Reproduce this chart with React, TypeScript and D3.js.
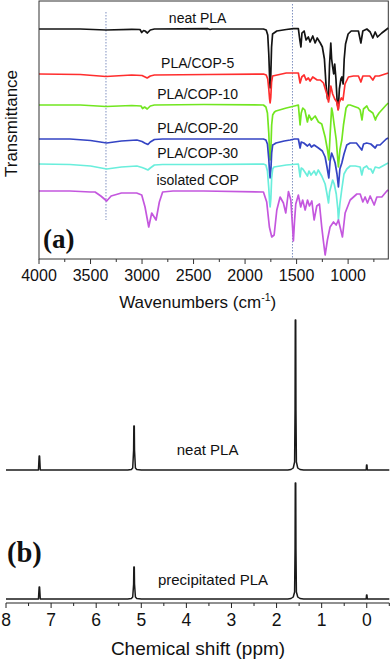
import * as d3 from "d3";

const WIDTH = 392;
const HEIGHT = 661;

// ---------- (a) FTIR ----------
const ftirLabels = ["neat PLA", "PLA/COP-5", "PLA/COP-10", "PLA/COP-20", "PLA/COP-30", "isolated COP"];
const ftirColors = ["#141414", "#ff2e2e", "#72e620", "#3444c4", "#6aeedc", "#c457de"];
// baseline of each trace (transmittance, a.u.)
const ftirOffsets = [230, 185, 154, 120, 95, 68];
const ftirTicks = [4000, 3500, 3000, 2500, 2000, 1500, 1000];
const ftirMinorTicks = [3750, 3250, 2750, 2250, 1750, 1250, 750];
const ftirMarkers = [3350, 1540];

// [wavenumber, absorption depth below baseline]
const neatPLA: [number, number][] = [
  [4000, 0], [3600, 0], [3350, 1], [3100, 0.3], [3020, 0.5], [3003, 3.5], [2985, 1.5], [2971, 2],
  [2948, 4], [2920, 1], [2880, 0], [2360, -0.3], [2340, 0.5], [2320, 0], [1822, 0], [1795, 1],
  [1780, 6], [1770, 25], [1762, 48], [1757, 59], [1751, 48], [1743, 18], [1733, 5], [1692, 2], [1600, 0.5],
  [1531, -0.3], [1483, -0.5], [1470, 10], [1458, 18], [1448, 4], [1427, 2], [1408, 11], [1386, 8],
  [1369, 13], [1343, 7], [1320, 14], [1300, 9], [1270, 14], [1250, 18], [1230, 30], [1215, 55],
  [1200, 70], [1190, 68], [1180, 35], [1168, 14], [1160, 30], [1150, 38], [1140, 45], [1130, 35],
  [1118, 50], [1105, 75], [1095, 80], [1085, 60], [1070, 50], [1060, 48], [1048, 55], [1038, 30],
  [1025, 15], [1000, 5], [970, 2], [900, 2], [876, 14], [857, 2], [818, 0], [786, 3], [760, 9],
  [737, 3], [715, 8], [673, 4], [610, -1],
];
const cop5: [number, number][] = [
  [4000, 0], [3600, 0.5], [3350, 2.5], [3100, 1], [3000, 1.5], [2950, 4], [2920, 2], [2880, 1],
  [2360, 0.5], [1822, 0], [1795, 1], [1780, 5], [1770, 15], [1762, 25], [1757, 29], [1751, 24], [1743, 8],
  [1733, 2], [1600, -1], [1550, -1], [1483, -1], [1466, 9], [1450, 3], [1427, 1], [1408, 6],
  [1386, 4], [1369, 7], [1343, 3], [1300, 6], [1270, 6], [1239, 9], [1207, 20], [1190, 28],
  [1180, 22], [1168, 12], [1150, 20], [1130, 25], [1110, 28], [1097, 36], [1085, 28], [1065, 24],
  [1050, 26], [1030, 10], [997, 3], [948, 2], [900, 2], [876, 8], [857, 2], [790, 2], [760, 6],
  [737, 2], [700, 2], [610, -1],
];
const cop10: [number, number][] = [
  [4000, 0], [3600, 0], [3350, 1.5], [3100, 0.5], [3010, 1], [2995, 3.5], [2975, 2], [2950, 4],
  [2920, 1], [2880, 0], [2400, -0.5], [1822, 0], [1798, 2], [1783, 8], [1770, 28], [1762, 48], [1757, 55],
  [1750, 45], [1742, 20], [1732, 10], [1715, 7], [1700, 6], [1600, 3], [1520, 1], [1483, 0], [1466, 20],
  [1455, 8], [1440, 3], [1420, 5], [1395, 17], [1380, 10], [1356, 15], [1330, 12], [1320, 11],
  [1288, 17], [1256, 19], [1223, 32], [1200, 45], [1187, 55], [1175, 30], [1160, 3], [1150, 8],
  [1135, 20], [1115, 35], [1100, 55], [1094, 62], [1080, 45], [1061, 35], [1045, 20], [1020, 3],
  [1000, 0], [980, 0], [900, 3], [883, 5], [865, 15], [851, 4], [818, 1], [800, 5], [760, 8],
  [735, 15], [725, 12], [700, 8], [630, 0], [610, -2],
];
const cop20: [number, number][] = [
  [4000, 0], [3700, 0], [3500, 1.5], [3343, 4], [3200, 2], [3050, 1], [3000, 2.5], [2975, 4],
  [2943, 5.5], [2920, 3], [2880, 0.5], [2800, 0], [2400, 0], [1822, 0], [1798, 1], [1783, 5],
  [1770, 20], [1762, 34], [1757, 39], [1750, 32], [1742, 14], [1732, 6], [1715, 5], [1700, 4], [1620, 2], [1563, 1],
  [1520, 0], [1483, 0], [1466, 9], [1455, 3], [1430, 4], [1395, 7], [1375, 5], [1356, 8],
  [1330, 6], [1288, 9], [1250, 12], [1223, 18], [1205, 28], [1187, 39], [1175, 22], [1160, 14],
  [1145, 18], [1126, 24], [1108, 35], [1094, 48], [1080, 30], [1061, 24], [1040, 15], [1013, 6],
  [980, 4], [920, 4], [867, 11], [850, 5], [820, 4], [780, 5], [737, 9], [720, 6], [690, 6],
  [630, 0], [610, -1],
];
const cop30: [number, number][] = [
  [4000, 0], [3700, 0.5], [3500, 2], [3343, 5], [3200, 3], [3050, 2], [3000, 3.5], [2975, 4.5],
  [2943, 6], [2920, 4], [2880, 1], [2800, 0.5], [2400, 0.5], [1822, 0], [1798, 1], [1783, 7],
  [1770, 24], [1762, 38], [1757, 43], [1750, 35], [1742, 14], [1732, 5], [1720, 3], [1600, 1], [1483, 0], [1466, 13],
  [1455, 4], [1440, 5], [1420, 8], [1395, 12], [1380, 7], [1360, 11], [1330, 7], [1310, 11],
  [1290, 6], [1256, 12], [1223, 20], [1205, 30], [1190, 39], [1180, 28], [1165, 22], [1150, 16],
  [1135, 20], [1115, 30], [1100, 45], [1094, 56], [1080, 40], [1061, 25], [1040, 10], [1013, 5],
  [980, 2], [930, 2], [883, 3], [867, 11], [851, 4], [820, 2], [800, 5], [780, 5], [760, 9],
  [737, 3], [700, 4], [630, 0], [610, -1],
];
const isolatedCOP: [number, number][] = [
  [4000, 0], [3700, 0], [3500, 1], [3456, 1], [3400, 5], [3343, 10], [3300, 5], [3200, 2],
  [3052, 2], [3003, 4], [2971, 16], [2935, 36], [2906, 22], [2864, 29], [2832, 11], [2800, 1],
  [2700, 0], [2400, 0], [1822, 1], [1790, 11], [1764, 36], [1741, 46], [1718, 44], [1692, 19],
  [1660, 6], [1628, 12], [1605, 22], [1579, 0.5], [1556, 9], [1540, 35], [1531, 50], [1520, 30],
  [1508, 13], [1483, 4], [1460, 16], [1441, 9], [1417, 19], [1394, 9], [1375, 15], [1352, 10],
  [1330, 29], [1304, 15], [1278, 13], [1256, 36], [1240, 50], [1223, 64], [1201, 49], [1175, 36],
  [1142, 31], [1116, 34], [1094, 29], [1078, 36], [1055, 46], [1029, 22], [980, 9], [915, 3],
  [883, 3], [857, 11], [835, 6], [812, 12], [786, 5], [747, 14], [721, 6], [673, 6], [624, 0],
  [610, -1],
];
const ftirSeries = [neatPLA, cop5, cop10, cop20, cop30, isolatedCOP];

// ---------- (b) 1H NMR ----------
const nmrLabels = ["neat PLA", "precipitated PLA"];
const nmrOffsets = [133, 4];
const nmrTicks = [8, 7, 6, 5, 4, 3, 2, 1, 0];
const nmrMinorTicks = [7.5, 6.5, 5.5, 4.5, 3.5, 2.5, 1.5, 0.5, -0.5];
// [ppm, intensity]
const nmrNeat: [number, number][] = [
  [8, 0], [7.28, 0], [7.265, 14], [7.255, 14], [7.24, 0], [5.3, 0], [5.22, 0.5], [5.19, 2],
  [5.17, 20], [5.165, 44], [5.155, 44], [5.15, 20], [5.13, 2], [5.1, 0.5], [5.0, 0], [1.75, 0],
  [1.68, 0.5], [1.63, 2], [1.6, 8], [1.59, 60], [1.585, 150], [1.575, 150], [1.57, 60], [1.56, 8],
  [1.53, 2], [1.48, 0.5], [1.4, 0], [0.012, 0], [0.005, 5], [-0.005, 5], [-0.012, 0], [-0.5, 0],
];
const nmrPrecip: [number, number][] = [
  [8, 0], [7.28, 0], [7.265, 12], [7.255, 12], [7.24, 0], [5.3, 0], [5.22, 0.5], [5.19, 2],
  [5.17, 15], [5.165, 32], [5.155, 32], [5.15, 15], [5.13, 2], [5.1, 0.5], [5.0, 0], [1.75, 0],
  [1.68, 0.5], [1.63, 2], [1.6, 7], [1.59, 50], [1.585, 116], [1.575, 116], [1.57, 50], [1.56, 7],
  [1.53, 2], [1.48, 0.5], [1.4, 0], [0.012, 0], [0.005, 4], [-0.005, 4], [-0.012, 0], [-0.5, 0],
];
const nmrSeries = [nmrNeat, nmrPrecip];

const SANS = "'Liberation Sans', Arial, sans-serif";
const SERIF = "'Liberation Serif', 'Times New Roman', serif";

export default function App() {
  // panel (a) scales
  const xA = d3.scaleLinear().domain([4000, 610]).range([39, 388.3]);
  const yA = d3.scaleLinear().domain([0, 258]).range([259, 1]);
  // panel (b) scales
  const xB = d3.scaleLinear().domain([8, -0.5]).range([6, 389.3]);
  const yB = d3.scaleLinear().domain([0, 300]).range([603, 303]);

  const ftirLine = (offset: number) =>
    d3
      .line<[number, number]>()
      .x((d) => xA(d[0]))
      .y((d) => yA(offset - d[1]));

  const nmrLine = (offset: number) =>
    d3
      .line<[number, number]>()
      .x((d) => xB(d[0]))
      .y((d) => yB(offset + d[1]));

  const boxBottom = yA(0);

  return (
    <svg
      width={WIDTH}
      height={HEIGHT}
      style={{ position: "absolute", left: 0, top: 0, background: "#fff" }}
      fontFamily={SANS}
    >
      {/* (a) dotted markers */}
      {ftirMarkers.map((w, i) => (
        <line
          key={w}
          x1={xA(w)}
          x2={xA(w)}
          y1={i === 0 ? 12 : 4}
          y2={i === 0 ? 220 : boxBottom}
          stroke="#7f90c0"
          strokeWidth={1}
          strokeDasharray="1.5,1.5"
        />
      ))}

      {/* (a) spectra */}
      {ftirSeries.map((s, i) => (
        <path
          key={ftirLabels[i]}
          d={ftirLine(ftirOffsets[i])(s) ?? ""}
          fill="none"
          stroke={ftirColors[i]}
          strokeWidth={1.7}
          strokeLinejoin="round"
        />
      ))}

      {/* (a) labels */}
      {ftirLabels.map((l, i) => (
        <text
          key={l}
          x={xA(2460)}
          y={yA(ftirOffsets[i] + 6)}
          textAnchor="middle"
          fontSize={14}
          fill="#111"
        >
          {l}
        </text>
      ))}

      {/* (a) frame */}
      <rect
        x={xA(4000)}
        y={yA(258)}
        width={xA(610) - xA(4000)}
        height={yA(0) - yA(258)}
        fill="none"
        stroke="#333"
        strokeWidth={1}
      />

      {/* (a) ticks */}
      {ftirTicks.map((t) => (
        <g key={t}>
          <line x1={xA(t)} x2={xA(t)} y1={boxBottom} y2={boxBottom + 5} stroke="#333" />
          <text x={xA(t)} y={281} textAnchor="middle" fontSize={16} fill="#111">
            {t}
          </text>
        </g>
      ))}
      {ftirMinorTicks.map((t) => (
        <line key={t} x1={xA(t)} x2={xA(t)} y1={boxBottom} y2={boxBottom + 3} stroke="#333" />
      ))}

      <text x={xA(2460)} y={308} textAnchor="middle" fontSize={17} fill="#111">
        Wavenumbers (cm
        <tspan fontSize={10.5} dy={-7}>
          -1
        </tspan>
        <tspan dy={7}>)</tspan>
      </text>
      <text
        transform="translate(16.5,123.5) rotate(-90)"
        textAnchor="middle"
        fontSize={17}
        fill="#111"
      >
        Transmittance
      </text>
      <text x={43} y={248} fontFamily={SERIF} fontWeight="bold" fontSize={27} fill="#111">
        (a)
      </text>

      {/* (b) spectra */}
      {nmrSeries.map((s, i) => (
        <path
          key={nmrLabels[i]}
          d={nmrLine(nmrOffsets[i])(s) ?? ""}
          fill="none"
          stroke="#1a1a1a"
          strokeWidth={1.5}
          strokeLinejoin="round"
        />
      ))}
      <text x={xB(3.53)} y={455} textAnchor="middle" fontSize={15} fill="#111">
        {nmrLabels[0]}
      </text>
      <text x={xB(3.41)} y={585} textAnchor="middle" fontSize={15} fill="#111">
        {nmrLabels[1]}
      </text>

      {/* (b) axis */}
      <line x1={xB(8)} x2={xB(-0.5)} y1={yB(0)} y2={yB(0)} stroke="#222" strokeWidth={1.2} />
      {nmrTicks.map((t) => (
        <g key={t}>
          <line x1={xB(t)} x2={xB(t)} y1={yB(0)} y2={yB(0) + 5} stroke="#222" />
          <text x={xB(t)} y={626} textAnchor="middle" fontSize={17.5} fill="#111">
            {t}
          </text>
        </g>
      ))}
      {nmrMinorTicks.map((t) => (
        <line key={t} x1={xB(t)} x2={xB(t)} y1={yB(0)} y2={yB(0) + 3} stroke="#222" />
      ))}
      <text x={198} y={655} textAnchor="middle" fontSize={19} fill="#111">
        Chemical shift (ppm)
      </text>
      <text x={7} y={562} fontFamily={SERIF} fontWeight="bold" fontSize={28.5} fill="#111">
        (b)
      </text>
    </svg>
  );
}
